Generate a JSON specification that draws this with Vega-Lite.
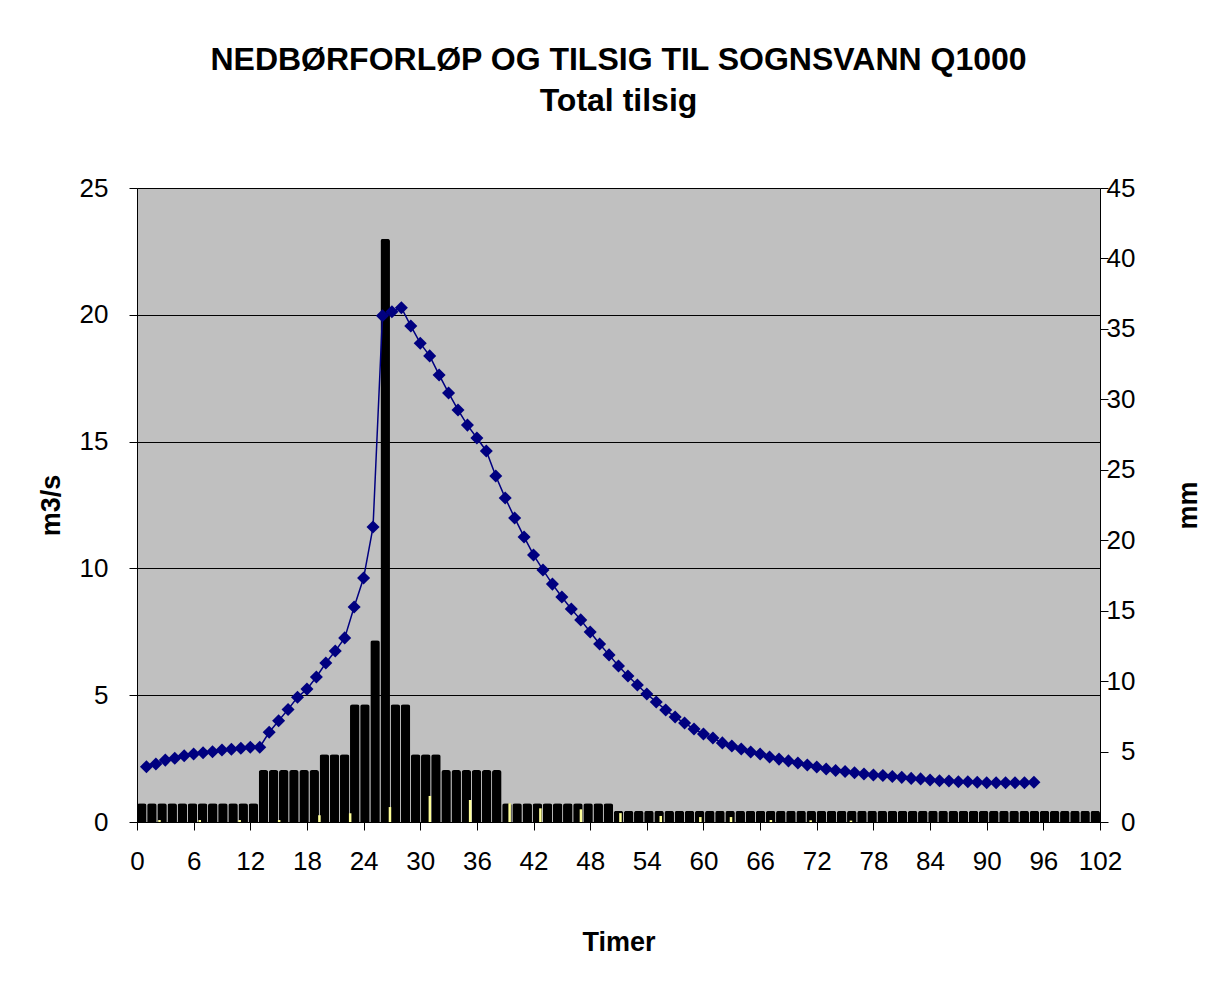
{
  "$schema": "https://vega.github.io/schema/vega-lite/v6.json",
  "width": 963,
  "height": 634,
  "autosize": "none",
  "padding": {"left": 137, "top": 188, "right": 126, "bottom": 161},
  "background": "white",
  "config": {
    "font": "Liberation Sans",
    "view": {"stroke": "#808080", "fill": "#C0C0C0"},
    "axis": {
      "labelFontSize": 26,
      "labelColor": "black",
      "labelFont": "Liberation Sans",
      "tickColor": "black",
      "tickSize": 8,
      "domainColor": "black",
      "labelPadding": 21,
      "titleFontSize": 27,
      "titleFontWeight": "bold",
      "titleColor": "black",
      "titleFont": "Liberation Sans",
      "labelOverlap": false,
      "labelFlush": false
    }
  },
  "title": {
    "text": "NEDBØRFORLØP OG TILSIG TIL SOGNSVANN Q1000",
    "subtitle": "Total tilsig",
    "font": "Liberation Sans",
    "subtitleFont": "Liberation Sans",
    "fontSize": 32,
    "subtitleFontSize": 32,
    "fontWeight": "bold",
    "subtitleFontWeight": "bold",
    "color": "black",
    "subtitleColor": "black",
    "anchor": "middle",
    "frame": "group",
    "offset": 57,
    "subtitlePadding": 9
  },
  "datasets": {
    "bars": [
      {"i": 1, "mm": 1.33}, {"i": 2, "mm": 1.33}, {"i": 3, "mm": 1.33}, {"i": 4, "mm": 1.33},
      {"i": 5, "mm": 1.33}, {"i": 6, "mm": 1.33}, {"i": 7, "mm": 1.33}, {"i": 8, "mm": 1.33},
      {"i": 9, "mm": 1.33}, {"i": 10, "mm": 1.33}, {"i": 11, "mm": 1.33}, {"i": 12, "mm": 1.33},
      {"i": 13, "mm": 3.69}, {"i": 14, "mm": 3.69}, {"i": 15, "mm": 3.69}, {"i": 16, "mm": 3.69},
      {"i": 17, "mm": 3.69}, {"i": 18, "mm": 3.69}, {"i": 19, "mm": 4.8}, {"i": 20, "mm": 4.8},
      {"i": 21, "mm": 4.8}, {"i": 22, "mm": 8.35}, {"i": 23, "mm": 8.35}, {"i": 24, "mm": 12.9},
      {"i": 25, "mm": 41.4}, {"i": 26, "mm": 8.35}, {"i": 27, "mm": 8.35}, {"i": 28, "mm": 4.8},
      {"i": 29, "mm": 4.8}, {"i": 30, "mm": 4.8}, {"i": 31, "mm": 3.69}, {"i": 32, "mm": 3.69},
      {"i": 33, "mm": 3.69}, {"i": 34, "mm": 3.69}, {"i": 35, "mm": 3.69}, {"i": 36, "mm": 3.69},
      {"i": 37, "mm": 1.33}, {"i": 38, "mm": 1.33}, {"i": 39, "mm": 1.33}, {"i": 40, "mm": 1.33},
      {"i": 41, "mm": 1.33}, {"i": 42, "mm": 1.33}, {"i": 43, "mm": 1.33}, {"i": 44, "mm": 1.33},
      {"i": 45, "mm": 1.33}, {"i": 46, "mm": 1.33}, {"i": 47, "mm": 1.33}, {"i": 48, "mm": 0.8},
      {"i": 49, "mm": 0.8}, {"i": 50, "mm": 0.8}, {"i": 51, "mm": 0.8}, {"i": 52, "mm": 0.8},
      {"i": 53, "mm": 0.8}, {"i": 54, "mm": 0.8}, {"i": 55, "mm": 0.8}, {"i": 56, "mm": 0.8},
      {"i": 57, "mm": 0.8}, {"i": 58, "mm": 0.8}, {"i": 59, "mm": 0.8}, {"i": 60, "mm": 0.8},
      {"i": 61, "mm": 0.8}, {"i": 62, "mm": 0.8}, {"i": 63, "mm": 0.8}, {"i": 64, "mm": 0.8},
      {"i": 65, "mm": 0.8}, {"i": 66, "mm": 0.8}, {"i": 67, "mm": 0.8}, {"i": 68, "mm": 0.8},
      {"i": 69, "mm": 0.8}, {"i": 70, "mm": 0.8}, {"i": 71, "mm": 0.8}, {"i": 72, "mm": 0.8},
      {"i": 73, "mm": 0.8}, {"i": 74, "mm": 0.8}, {"i": 75, "mm": 0.8}, {"i": 76, "mm": 0.8},
      {"i": 77, "mm": 0.8}, {"i": 78, "mm": 0.8}, {"i": 79, "mm": 0.8}, {"i": 80, "mm": 0.8},
      {"i": 81, "mm": 0.8}, {"i": 82, "mm": 0.8}, {"i": 83, "mm": 0.8}, {"i": 84, "mm": 0.8},
      {"i": 85, "mm": 0.8}, {"i": 86, "mm": 0.8}, {"i": 87, "mm": 0.8}, {"i": 88, "mm": 0.8},
      {"i": 89, "mm": 0.8}, {"i": 90, "mm": 0.8}, {"i": 91, "mm": 0.8}, {"i": 92, "mm": 0.8},
      {"i": 93, "mm": 0.8}, {"i": 94, "mm": 0.8}, {"i": 95, "mm": 0.8}
    ],
    "yellow": [
      {"h": 1.87, "mm": 0.14}, {"h": 6.18, "mm": 0.14}, {"h": 10.45, "mm": 0.14}, {"h": 14.68, "mm": 0.14},
      {"h": 18.99, "mm": 0.48}, {"h": 22.28, "mm": 0.62}, {"h": 26.54, "mm": 1.06}, {"h": 30.81, "mm": 1.85},
      {"h": 35.12, "mm": 1.56}, {"h": 39.35, "mm": 1.33}, {"h": 42.64, "mm": 0.97}, {"h": 46.98, "mm": 0.9},
      {"h": 51.21, "mm": 0.63}, {"h": 55.52, "mm": 0.43}, {"h": 59.76, "mm": 0.35}, {"h": 63.04, "mm": 0.35},
      {"h": 67.31, "mm": 0.14}, {"h": 71.57, "mm": 0.12}, {"h": 75.88, "mm": 0.1}
    ],
    "flow": [
      {"h": 1, "q": 2.18}, {"h": 2, "q": 2.29}, {"h": 3, "q": 2.44}, {"h": 4, "q": 2.51},
      {"h": 5, "q": 2.61}, {"h": 6, "q": 2.68}, {"h": 7, "q": 2.73}, {"h": 8, "q": 2.77},
      {"h": 9, "q": 2.84}, {"h": 10, "q": 2.87}, {"h": 11, "q": 2.91}, {"h": 12, "q": 2.95},
      {"h": 13, "q": 2.95}, {"h": 14, "q": 3.54}, {"h": 15, "q": 3.99}, {"h": 16, "q": 4.44},
      {"h": 17, "q": 4.92}, {"h": 18, "q": 5.24}, {"h": 19, "q": 5.72}, {"h": 20, "q": 6.27},
      {"h": 21, "q": 6.74}, {"h": 22, "q": 7.26}, {"h": 23, "q": 8.48}, {"h": 24, "q": 9.62},
      {"h": 25, "q": 11.63}, {"h": 26, "q": 19.96}, {"h": 27, "q": 20.12}, {"h": 28, "q": 20.28},
      {"h": 29, "q": 19.56}, {"h": 30, "q": 18.88}, {"h": 31, "q": 18.38}, {"h": 32, "q": 17.63},
      {"h": 33, "q": 16.92}, {"h": 34, "q": 16.25}, {"h": 35, "q": 15.65}, {"h": 36, "q": 15.14},
      {"h": 37, "q": 14.63}, {"h": 38, "q": 13.64}, {"h": 39, "q": 12.78}, {"h": 40, "q": 11.99},
      {"h": 41, "q": 11.24}, {"h": 42, "q": 10.53}, {"h": 43, "q": 9.94}, {"h": 44, "q": 9.38},
      {"h": 45, "q": 8.87}, {"h": 46, "q": 8.4}, {"h": 47, "q": 7.97}, {"h": 48, "q": 7.49},
      {"h": 49, "q": 7.02}, {"h": 50, "q": 6.59}, {"h": 51, "q": 6.15}, {"h": 52, "q": 5.76},
      {"h": 53, "q": 5.4}, {"h": 54, "q": 5.05}, {"h": 55, "q": 4.73}, {"h": 56, "q": 4.42},
      {"h": 57, "q": 4.14}, {"h": 58, "q": 3.9}, {"h": 59, "q": 3.67}, {"h": 60, "q": 3.47},
      {"h": 61, "q": 3.31}, {"h": 62, "q": 3.12}, {"h": 63, "q": 3.0}, {"h": 64, "q": 2.88},
      {"h": 65, "q": 2.76}, {"h": 66, "q": 2.68}, {"h": 67, "q": 2.56}, {"h": 68, "q": 2.48},
      {"h": 69, "q": 2.41}, {"h": 70, "q": 2.33}, {"h": 71, "q": 2.25}, {"h": 72, "q": 2.17},
      {"h": 73, "q": 2.09}, {"h": 74, "q": 2.03}, {"h": 75, "q": 1.99}, {"h": 76, "q": 1.94},
      {"h": 77, "q": 1.89}, {"h": 78, "q": 1.85}, {"h": 79, "q": 1.83}, {"h": 80, "q": 1.79},
      {"h": 81, "q": 1.76}, {"h": 82, "q": 1.72}, {"h": 83, "q": 1.7}, {"h": 84, "q": 1.66},
      {"h": 85, "q": 1.63}, {"h": 86, "q": 1.62}, {"h": 87, "q": 1.59}, {"h": 88, "q": 1.59},
      {"h": 89, "q": 1.57}, {"h": 90, "q": 1.55}, {"h": 91, "q": 1.55}, {"h": 92, "q": 1.55},
      {"h": 93, "q": 1.55}, {"h": 94, "q": 1.55}, {"h": 95, "q": 1.57}
    ]
  },
  "layer": [
    {
      "data": {"name": "bars"},
      "mark": {"type": "bar", "color": "black", "cornerRadiusTopLeft": 2.5, "cornerRadiusTopRight": 2.5},
      "encoding": {
        "x": {"field": "i", "type": "ordinal", "scale": {"paddingInner": 0.06, "paddingOuter": 0}, "axis": null},
        "y": {
          "field": "mm", "type": "quantitative",
          "scale": {"domain": [0, 45], "nice": false},
          "axis": {
            "orient": "right", "title": "mm", "values": [0, 5, 10, 15, 20, 25, 30, 35, 40, 45],
            "grid": false, "labelAlign": "right", "labelPadding": 27,
            "titleAngle": 270, "titleBaseline": "top", "titlePadding": 40
          }
        }
      }
    },
    {
      "data": {"name": "yellow"},
      "mark": {"type": "bar", "color": "#FFFF99", "width": 2.5},
      "encoding": {
        "x": {"field": "h", "type": "quantitative", "scale": {"domain": [0, 102], "nice": false}, "axis": null},
        "y": {"field": "mm", "type": "quantitative", "scale": {"domain": [0, 45], "nice": false}, "axis": null}
      }
    },
    {
      "data": {"name": "flow"},
      "mark": {
        "type": "line", "color": "#000080", "strokeWidth": 1.5,
        "point": {"shape": "diamond", "size": 170, "filled": true, "color": "#000080"}
      },
      "encoding": {
        "x": {
          "field": "h", "type": "quantitative",
          "scale": {"domain": [0, 102], "nice": false},
          "axis": {
            "orient": "bottom", "title": "Timer",
            "values": [0, 6, 12, 18, 24, 30, 36, 42, 48, 54, 60, 66, 72, 78, 84, 90, 96, 102],
            "grid": false, "labelPadding": 18, "titlePadding": 55
          }
        },
        "y": {
          "field": "q", "type": "quantitative",
          "scale": {"domain": [0, 25], "nice": false},
          "axis": {
            "orient": "left", "title": "m3/s", "values": [0, 5, 10, 15, 20, 25],
            "grid": true, "gridColor": "black", "gridOpacity": 1, "gridWidth": 1,
            "titlePadding": 14
          }
        }
      }
    }
  ],
  "resolve": {
    "scale": {"x": "independent", "y": "independent"},
    "axis": {"x": "independent", "y": "independent"}
  }
}
